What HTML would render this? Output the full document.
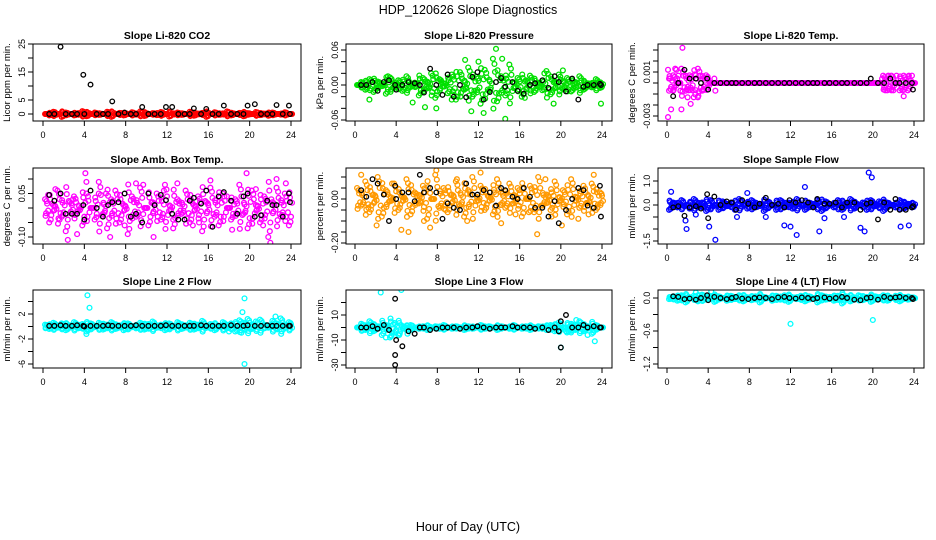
<!DOCTYPE html>
<html><head><meta charset="utf-8"><style>
html,body{margin:0;padding:0;background:#fff;}
svg{display:block;font-family:"Liberation Sans",sans-serif;}
</style></head><body>
<svg id="chart" width="936" height="540" viewBox="0 0 936 540">
<rect x="0" y="0" width="936" height="540" fill="#fff"/>
<text x="468" y="14" font-size="12.5" text-anchor="middle">HDP_120626  Slope Diagnostics</text>
<text x="468" y="531" font-size="12.5" text-anchor="middle">Hour of Day (UTC)</text>
</svg>
<script>
// shared x data
const xTicks = [0,4,8,12,16,20,24];
const blackHours = [0.6,1.1,1.7,2.2,2.8,3.3,3.9,4.0,4.6,5.2,5.8,6.3,6.7,7.3,7.9,8.5,9.0,9.6,10.2,10.8,11.4,11.9,12.5,13.1,13.7,14.2,14.6,15.3,15.8,16.4,17.0,17.5,18.2,18.8,19.4,19.8,20.5,21.1,21.7,22.2,22.6,23.2,23.8,23.9];
// colored series sampled every 0.4 h starting at 0.2 h
const colorStart = 0.2, colorStep = 0.4;

// Panel 1: CO2
const co2Values = [0,-0.5,0.8,0,-1,0.5,0,-0.5,0.3,1,-0.8,0,0.5,-0.3,0,0.8,-1,0,0.4,-0.5,0,0.6,-0.2,0.9,-0.7,0,0.3,-0.4,0.7,0,-0.9,0.2,0.5,-0.3,0,0.8,-0.6,0.1,0.4,-1,0,0.6,-0.3,0.2,0.9,-0.5,0,0.4,-0.8,0.3,0,0.7,-0.4,0.1,-0.6,0.5,0,-0.2,0.6,0];
const co2ExtraX = [];
const co2ExtraY = [];
const co2Black = [0,0,24,0,0,0,14,0,10.5,0,0,0,4.5,0,0.5,0,0,2.5,0,0,0,2.5,2.5,0,0,0,2,0,1.8,0,0,3,0,0,0,3,3.5,0,0,0,3.2,0,3,0];
const co2Ticks = [0,5,10,15,20,25];
const co2Labels = ['0','5','','15','','25'];

// Panel 2: Pressure (units 0.01)
const presValues = [0,0.5,-0.8,1,-1.2,0.6,0.2,-1.5,1.3,-0.5,0.8,-1,1.5,-0.3,0.4,-1.8,1.2,-0.6,2,-2.2,1,0.3,-1.4,1.8,-2.5,2.2,-0.8,3,-2,1.4,-3.2,2.6,-1,4.5,-2.8,1.5,-1.8,3.5,-0.5,1.2,-2,0.8,1.6,-1.2,0.4,-0.9,2.4,-1.6,0.6,1.8,-0.7,1.2,-1.1,0.5,1.5,-0.8,0.3,-0.4,1,-0.5];
const presExtraX = [10.7,12,13.7,14.6,12.5,11.3,6.8,7.9,1.4,19.3,23.9,5.6,14.3,20.2,18.4,3.2,9.4,16.5];
const presExtraY = [4.3,4,6.2,-5.8,-4.8,-4.5,-3.8,-4,-2.5,-3.2,-3.2,-3,4.5,2.5,2,1.5,-2.5,-2.2];
const presBlack = [0,0,0.5,-1,0.5,0.8,0,-0.8,0,0.5,0.3,0,-1.3,2.8,0,-1.7,1.8,-2,0,-2.1,1.4,2.2,-2.5,-1.2,0.5,1.2,-0.3,0.5,-1,-1.5,0,0.3,0.8,-0.5,1.5,0.5,-1.1,1.1,-2.5,-0.3,0,0,0.2,0];
const presTicks = [-6,-4,-2,0,2,4,6];
const presLabels = ['-0.06','','','0.00','','','0.06'];

// Panel 3: Li-820 Temp (units 0.001)
const tempValues = [-0.7,0.7,0,1.3,-0.7,0.7,-1.3,1.3,-0.7,0.7,0,0,0,0,0,0,0,0,0,0,0,0,0,0,0,0,0,0,0,0,0,0,0,0,0,0,0,0,0,0,0,0,0,0,0,0,0,0,0,0,0,0,0.67,-0.67,0.67,0,-0.67,0.67,-0.67,0];
const tempExtraX = [0.1,0.1,0.2,0.4,0.9,1,1.3,1.4,1.5,2,2.3,2.8,3,3.5,4.6,4.7,0.6,1.8,2.5,3.2,21.5,22.3,22.9,23,23.5,21.2,1.1,2.1,3.7,0.8,22,23.8,20.9,21.8];
const tempExtraY = [-3.1,1.2,0.4,-2.4,1.2,0.4,-0.7,-2.4,3.2,-1.3,-1.9,0.7,-1.3,-0.67,0.4,-0.7,-0.7,0.67,-0.67,0.67,0.67,0.67,-0.67,-1.2,0.67,-0.67,0.67,-0.67,0.4,1.3,-0.67,0.67,0.4,-0.67];
const tempBlack = [-1.2,0,1.2,0.4,0.4,0,0.4,-0.6,0,0,0,0,0,0,0,0,0,0,0,0,0,0,0,0,0,0,0,0,0,0,0,0,0,0,0,0.4,0,0,0.4,0,0,0,0,-0.6];
const tempTicks = [-3,-2,-1,0,1,2,3];
const tempLabels = ['-0.003','','','','0.001','',''];

// Panel 4: Amb Box Temp (units 0.01)
const ambValues = [3,-5,1,6,-3,-8,2,4,-1,-6,5,0,-4,9,-2,-7,3,6,-5,1,-9,4,-3,7,0,-6,2,5,-4,8,-1,-7,3,-2,6,-5,1,4,-8,2,7,-3,-6,5,0,-4,3,8,-2,-7,6,1,-5,4,-10,2,7,-3,5,-6];
const ambExtraX = [4.1,4.2,2.4,6.5,19.7,22,9.0,9.7,13,16.2,22.6,23.5,1.2,7.9,10.7,18.3,20.6,3.3,14.5,0.5,1.6,5.4,8.3,11.7,15.1,17.8,21.3,12.6,6.1,2.9];
const ambExtraY = [12,9,-11,-10,12,-12,8.5,8,8.5,9.5,10,8.5,6.5,-6,-10,-7.5,6.5,-9,-6,4.5,-4,5,-3,6,-5,4,-6,-4,5,3];
const ambBlack = [4.5,2.5,5,-2,-2,-2,1,-4,6,0,-3,1,2,2,5,-3,-2,-5,5,1,4.5,2.7,-2,-4,-4,2.5,3.5,1.5,6,-6.5,4,5.5,2.5,-2,4,5,-3,-2.5,2.5,1,1,-3,5,2];
const ambTicks = [-10,-5,0,5,10];
const ambLabels = ['-0.10','','','0.05',''];

// Panel 5: Gas Stream RH (units 0.01)
const rhValues = [5,-3,8,-6,2,10,-8,4,-1,7,-5,1,9,-7,3,-2,6,-9,0,11,-4,5,-6,2,8,-3,-8,4,10,-1,6,-5,1,-7,9,3,-4,7,-2,5,-8,0,6,-6,10,-3,2,-5,8,-1,4,-7,9,1,-4,6,-2,7,-5,3];
const rhExtraX = [4.3,7.9,17.7,4.5,5.2,7.3,2.1,6.7,10.9,14.2,20.1,22.7,0.6,12.2,16.9,19.1,3.6,8.8,13.5,18.5,21.7,23.2,1.3,9.9,15.6];
const rhExtraY = [-25,13,-16,-14,-15,-13,-12,-10,-10,-11,-12,-7,11,12,-6,-8,7,-5,3,9,-9,11,-4,9,-7];
const rhBlack = [4,1,9,7,2,-10,6,0,3,3,-1,11,3,5,3,-9,-2,-4,-5,7,2,2,4,3,-3,5,4,1,0,5,1,-4,-4,-8,-1,-11,-5,0,5,4,-3,-4,6,-8];
const rhTicks = [-20,-15,-10,-5,0,5,10];
const rhLabels = ['-0.20','','','','0.00','',''];

// Panel 6: Sample Flow
const flowValues = [-0.2,0.1,-0.1,0.2,0,-0.15,0.25,-0.1,0.1,-0.25,0.2,0,-0.2,0.15,-0.05,0.1,-0.2,0.25,0,-0.15,0.2,-0.1,0.05,-0.25,0.15,0,-0.2,0.2,-0.1,0.1,-0.15,0.25,0,-0.2,0.1,-0.05,0.2,-0.25,0.15,0,-0.1,0.2,-0.2,0.05,0.25,-0.15,0,0.1,-0.2,0.2,-0.05,0.15,-0.25,0.1,0,-0.1,0.2,-0.15,0.05,-0.1];
const flowExtraX = [0.4,1.8,1.9,4.1,4.7,7.8,11.4,12,12.6,13.4,14.8,18.8,19.2,19.6,19.9,22.7,23.5,6.8,9.6,17.2,2.8,15.3];
const flowExtraY = [0.55,-0.65,-1.0,-0.9,-1.45,0.5,-0.85,-0.9,-1.25,0.75,-1.1,-0.95,-1.1,1.35,1.15,-0.9,-0.85,-0.5,-0.5,-0.5,-0.4,-0.55];
const flowBlack = [-0.1,-0.05,-0.45,-0.1,-0.05,-0.15,0.45,-0.55,0.35,0,0.15,0.1,-0.2,0.2,0.05,-0.1,0.05,0.3,0,0.05,-0.1,0.2,0.1,0.2,0.1,-0.1,0.25,0.05,0.05,0.1,-0.1,0.1,0.1,-0.2,0.05,0.1,-0.6,0.1,-0.2,0.25,-0.2,-0.2,-0.1,-0.05];
const flowTicks = [-1.5,-1,-0.5,0,0.5,1];
const flowLabels = ['-1.5','','','0.0','','1.0'];

// Panel 7: Line 2 Flow
const l2Values = [0.3,-0.4,0.6,-0.2,0.5,-0.6,0.2,0.7,-0.3,0.4,-0.8,0.5,-0.1,0.6,-0.5,0.3,0.7,-0.4,0.2,-0.6,0.5,0.1,-0.3,0.6,-0.5,0.4,0.8,-0.2,0.3,-0.6,0.5,-0.1,0.7,-0.4,0.2,0.6,-0.5,0.3,0.9,-0.2,0.4,-0.6,0.1,0.7,-0.3,0.5,-0.8,1,0.6,1.2,-0.4,0.8,1.1,0.3,-0.2,0.9,0.5,1.3,0.2,0.7];
const l2ExtraX = [4.3,4.5,19.5,19.3,19.5,18,19.2,22.5,4.2];
const l2ExtraY = [5,3,4.5,2.3,-6,-0.8,-1,1.6,-1.2];
const l2Black = [0.1,0.1,0.2,0.1,0.1,0.2,0.1,0,0.1,0.1,0.1,0.2,0.1,0.1,0.1,0.1,0.2,0.1,0.1,0.1,0.1,0.2,0.1,0.1,0.1,0.1,0.1,0.2,0.1,0.1,0.1,0.1,0.2,0.1,0.1,0.2,0.1,0.1,0.2,0.1,0.1,0.1,0.1,0.1];
const l2Ticks = [-6,-4,-2,0,2,4];
const l2Labels = ['-6','','-2','','2',''];

// Panel 8: Line 3 Flow
const l3Values = [0,3,-2,5,-3,1,-6,2,-8,-4,-6,1,-2,2,0,-1,1,-2,0,1,-1,2,0,-1,1,0,-2,1,-1,0,2,-1,1,0,-2,1,0,-1,2,0,-1,1,-2,0,1,-1,-2,2,-3,4,0,-4,3,-2,5,-3,1,-5,2,0];
const l3ExtraX = [2.5,4.5,20,23.3,21.5,4.3,3.5,20.5,3,5.1,21,22.6];
const l3ExtraY = [28,30,-16,-11,6,-6,-7,-3,-8,-5,-4,-6];
const l3Black = [0,0,1,-1,2,-2,23,-10,-15,-3,-5,0,0,-2,-1,0,0,0,-1,0,0,1,0,-1,0,0,0,1,0,0,0,-1,0,-2,0,-3,10,0,0,2,0,1,0,0];
const l3BlackExtraX = [3.9,3.9,20,20];
const l3BlackExtraY = [-22,-30,-16,5];
const l3Ticks = [-30,-20,-10,0,10,20];
const l3Labels = ['-30','','-10','','10',''];

// Panel 9: Line 4 (LT) Flow
const l4Values = [-0.02,0.03,-0.05,0.05,-0.08,0,0.04,-0.06,0.06,-0.03,0.02,-0.07,0.03,0,-0.05,0.04,-0.02,0.05,-0.06,0.01,-0.04,0.03,-0.08,0.02,0,-0.05,0.04,-0.03,0.05,-0.07,0.01,-0.02,0.04,-0.06,0.03,0,-0.08,0.05,-0.03,0.02,-0.05,0.04,-0.1,0.03,-0.06,0,0.05,-0.04,0.02,-0.07,0.03,-0.02,0.05,-0.05,0,0.04,-0.06,0.02,-0.03,0.01];
const l4ExtraX = [4,12,20,2.8,4.3];
const l4ExtraY = [-1.33,-0.47,-0.4,0.1,0.12];
const l4Black = [0.03,0.02,-0.02,-0.01,-0.03,0,0.05,-0.04,0.02,0,-0.02,0,0.02,-0.01,-0.02,0,0.01,0,-0.02,0.01,0.02,0,-0.01,0.01,0,-0.02,0,0.01,-0.01,0,0.02,0,-0.03,-0.04,0,0.01,-0.03,0.02,0,0.01,0.02,0,0,-0.02];
const l4Ticks = [-1.2,-0.9,-0.6,-0.3,0];
const l4Labels = ['-1.2','','-0.6','','0.0'];

const NS = 'http://www.w3.org/2000/svg';
const svg = document.getElementById('chart');
const cols = [{left:33,right:301,x0:43,x24:291},{left:346,right:612,x0:355,x24:602},{left:658,right:924,x0:667,x24:914}];
const rows = [{top:44,bottom:121},{top:168,bottom:244},{top:290,bottom:368}];
// cloud rendering: each sample is drawn with a few jittered copies (offset in hours, scale of value)
const cloudCopies = [[0,1],[0.1,-0.6],[0.2,0.5],[0.3,-0.3],[0.15,0.8],[0.05,-0.9]];

const panels = [
 {name:'co2',title:'Slope Li-820 CO2',ylab:'Licor ppm per min.',r:0,c:0,v0:0,p0:114,v1:25,p1:44,vals:co2Values,ex:co2ExtraX,ey:co2ExtraY,black:co2Black,ticks:co2Ticks,labels:co2Labels,color:'#ff0000'},
 {name:'pressure',title:'Slope Li-820 Pressure',ylab:'kPa per min.',r:0,c:1,v0:0,p0:85,v1:6,p1:50,vals:presValues,ex:presExtraX,ey:presExtraY,black:presBlack,ticks:presTicks,labels:presLabels,color:'#00e000'},
 {name:'li820-temp',title:'Slope Li-820 Temp.',ylab:'degrees C per min.',r:0,c:2,v0:0,p0:83,v1:3,p1:50,vals:tempValues,ex:tempExtraX,ey:tempExtraY,black:tempBlack,ticks:tempTicks,labels:tempLabels,color:'#ff00ff'},
 {name:'amb-box-temp',title:'Slope Amb. Box Temp.',ylab:'degrees C per min.',r:1,c:0,v0:0,p0:208,v1:10,p1:179,vals:ambValues,ex:ambExtraX,ey:ambExtraY,black:ambBlack,ticks:ambTicks,labels:ambLabels,color:'#ff00ff'},
 {name:'gas-stream-rh',title:'Slope Gas Stream RH',ylab:'percent per min.',r:1,c:1,v0:0,p0:199,v1:10,p1:177,vals:rhValues,ex:rhExtraX,ey:rhExtraY,black:rhBlack,ticks:rhTicks,labels:rhLabels,color:'#ff9900'},
 {name:'sample-flow',title:'Slope Sample Flow',ylab:'ml/min per min.',r:1,c:2,v0:0,p0:205,v1:1,p1:181,vals:flowValues,ex:flowExtraX,ey:flowExtraY,black:flowBlack,ticks:flowTicks,labels:flowLabels,color:'#0000ff'},
 {name:'line2-flow',title:'Slope Line 2 Flow',ylab:'ml/min per min.',r:2,c:0,v0:0,p0:326.5,v1:2,p1:314,vals:l2Values,ex:l2ExtraX,ey:l2ExtraY,black:l2Black,ticks:l2Ticks,labels:l2Labels,color:'#00ffff'},
 {name:'line3-flow',title:'Slope Line 3 Flow',ylab:'ml/min per min.',r:2,c:1,v0:0,p0:327.5,v1:10,p1:315,vals:l3Values,ex:l3ExtraX,ey:l3ExtraY,black:l3Black,bx:l3BlackExtraX,by:l3BlackExtraY,ticks:l3Ticks,labels:l3Labels,color:'#00ffff'},
 {name:'line4-flow',title:'Slope Line 4 (LT) Flow',ylab:'ml/min per min.',r:2,c:2,v0:0,p0:298,v1:-0.6,p1:331,vals:l4Values,ex:l4ExtraX,ey:l4ExtraY,black:l4Black,ticks:l4Ticks,labels:l4Labels,color:'#00ffff'}
];

function mk(tag, attrs, parent){
  const e = document.createElementNS(NS, tag);
  for (const k in attrs) e.setAttribute(k, attrs[k]);
  parent.appendChild(e);
  return e;
}

panels.forEach(p => {
  const col = cols[p.c], row = rows[p.r];
  const xs = h => col.x0 + (h/24)*(col.x24-col.x0);
  const ys = v => p.p0 + (v-p.v0)*(p.p1-p.p0)/(p.v1-p.v0);
  const g = mk('g', {}, svg);
  
  
  const t = mk('text', {x:(col.left+col.right)/2, y:row.top-5, 'font-size':10.5, 'font-weight':'bold', 'text-anchor':'middle'}, g);
  t.textContent = p.title;
  
  
  const yl = mk('text', {x:0, y:0, 'font-size':9.5, 'text-anchor':'middle', transform:`translate(${col.left-23},${(row.top+row.bottom)/2}) rotate(-90)`}, g);
  yl.textContent = p.ylab;
  
  
  const cp = mk('clipPath', {id:'clip-'+p.name}, g);
  mk('rect', {x:col.left, y:row.top, width:col.right-col.left, height:row.bottom-row.top}, cp);
  const pts = mk('g', {'clip-path':`url(#clip-${p.name})`, fill:'none', 'stroke-width':1.3}, g);
  
  
  p.vals.forEach((v,i) => {
    cloudCopies.forEach(cc => {
      const c = mk('circle', {cx:xs(colorStart+i*colorStep+cc[0]), cy:ys(v*cc[1]), r:2.4, stroke:p.color}, pts);
      
      
    });
  });
  p.ex.forEach((h,i) => {
    const c = mk('circle', {cx:xs(h), cy:ys(p.ey[i]), r:2.4, stroke:p.color}, pts);
    
    
  });
  p.black.forEach((v,i) => {
    const c = mk('circle', {cx:xs(blackHours[i]), cy:ys(v), r:2.3, stroke:'#000'}, pts);
    
    
  });
  if (p.bx) p.bx.forEach((h,i) => {
    const c = mk('circle', {cx:xs(h), cy:ys(p.by[i]), r:2.3, stroke:'#000'}, pts);
    
    
  });
  mk('rect', {x:col.left, y:row.top, width:col.right-col.left, height:row.bottom-row.top, fill:'none', stroke:'#000', 'stroke-width':1}, g);
  mk('line', {x1:xs(0), x2:xs(24), y1:row.bottom, y2:row.bottom, stroke:'#000'}, g);
  xTicks.forEach(h => {
    mk('line', {x1:xs(h), x2:xs(h), y1:row.bottom, y2:row.bottom+5, stroke:'#000'}, g);
    const tl = mk('text', {x:xs(h), y:row.bottom+17, 'font-size':9, 'text-anchor':'middle'}, g);
    tl.textContent = h;
    
    
  });
  const yt0 = ys(p.ticks[0]), yt1 = ys(p.ticks[p.ticks.length-1]);
  mk('line', {x1:col.left, x2:col.left, y1:yt0, y2:yt1, stroke:'#000'}, g);
  p.ticks.forEach((v,i) => {
    mk('line', {x1:col.left-5, x2:col.left, y1:ys(v), y2:ys(v), stroke:'#000'}, g);
    if (p.labels[i]) {
      const tl = mk('text', {x:0, y:0, 'font-size':9, 'text-anchor':'middle', transform:`translate(${col.left-8},${ys(v)}) rotate(-90)`}, g);
      tl.textContent = p.labels[i];
      
      
    }
  });
});
</script>
</body></html>
